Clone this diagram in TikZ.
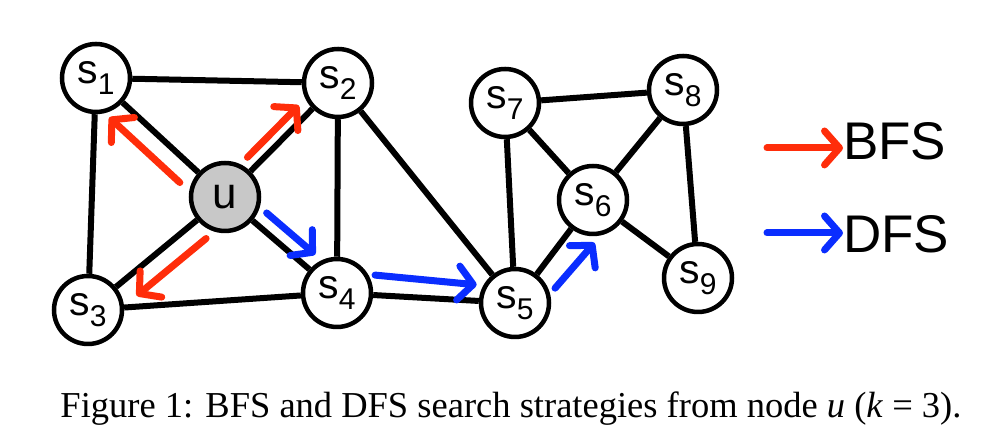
\documentclass[tikz,border=0pt]{standalone}
\usepackage{fontspec}
\setmainfont{Liberation Serif}
\setsansfont{Liberation Sans}
\usetikzlibrary{calc,arrows.meta}
\definecolor{bfsred}{RGB}{255,45,10}
\definecolor{dfsblue}{RGB}{10,45,255}
\definecolor{ugray}{RGB}{200,200,200}
\newcommand{\sn}[1]{s\raisebox{-11pt}{\fontsize{30}{30}\selectfont #1}}

\begin{document}
\begin{tikzpicture}[x=1pt, y=1pt,
    vertex/.style={circle, draw, line width=4.5pt, fill=white, minimum size=68pt,
      inner sep=0pt, font=\sffamily\fontsize{41}{41}\selectfont},
    edge/.style={line width=6pt},
    bfsarrow/.style={line width=7pt, bfsred, line cap=round,
      -{Straight Barb[length=15pt,width=34pt,round]}},
    dfsarrow/.style={line width=7pt, dfsblue, line cap=round,
      -{Straight Barb[length=15pt,width=34pt,round]}}]
    \useasboundingbox (0,0) rectangle (988,435);

    % the graph
    \node[vertex] (s1) at (96,357) {\sn{1}};
    \node[vertex] (s2) at (338,352) {\sn{2}};
    \node[vertex, fill=ugray, font=\sffamily\fontsize{44}{44}\selectfont] (u) at (225,238) {u};
    \node[vertex] (s3) at (88,125) {\sn{3}};
    \node[vertex] (s4) at (337,142) {\sn{4}};
    \node[vertex] (s5) at (515,132) {\sn{5}};
    \node[vertex] (s7) at (505,332) {\sn{7}};
    \node[vertex] (s8) at (683,345) {\sn{8}};
    \node[vertex] (s6) at (593,235) {\sn{6}};
    \node[vertex] (s9) at (698,157) {\sn{9}};

    \draw[edge] (s1) -- (s2);
    \draw[edge] (s1) -- (s3);
    \draw[edge] (s1) -- (u);
    \draw[edge] (u) -- (s2);
    \draw[edge] (u) -- (s3);
    \draw[edge] (u) -- (s4);
    \draw[edge] (s2) -- (s4);
    \draw[edge] (s2) -- (s5);
    \draw[edge] (s3) -- (s4);
    \draw[edge] (s4) -- (s5);
    \draw[edge] (s5) -- (s7);
    \draw[edge] (s5) -- (s6);
    \draw[edge] (s7) -- (s8);
    \draw[edge] (s7) -- (s6);
    \draw[edge] (s8) -- (s6);
    \draw[edge] (s8) -- (s9);
    \draw[edge] (s6) -- (s9);

    % search arrows
    \coordinate (b1a) at ($(u)!43pt!(s1)!20pt!90:(s1)$);
    \coordinate (b1b) at ($(u)!139pt!(s1)!20pt!90:(s1)$);
    \coordinate (b2a) at ($(u)!44pt!(s2)!12pt!90:(s2)$);
    \coordinate (b2b) at ($(u)!117pt!(s2)!12pt!90:(s2)$);
    \coordinate (b3a) at ($(u)!41pt!(s3)!20pt!90:(s3)$);
    \coordinate (b3b) at ($(u)!131pt!(s3)!20pt!90:(s3)$);
    \coordinate (d1a) at ($(u)!42pt!(s4)!15pt!90:(s4)$);
    \coordinate (d1b) at ($(u)!106pt!(s4)!15pt!90:(s4)$);
    \coordinate (d2a) at ($(s4)!37pt!(s5)!20pt!90:(s5)$);
    \coordinate (d2b) at ($(s4)!139pt!(s5)!16pt!90:(s5)$);
    \coordinate (d3a) at ($(s5)!36pt!(s6)!23pt!-90:(s6)$);
    \coordinate (d3b) at ($(s5)!96pt!(s6)!27pt!-90:(s6)$);
    \draw[bfsarrow] (b1a) -- (b1b);
    \draw[bfsarrow] (b2a) -- (b2b);
    \draw[bfsarrow] (b3a) -- (b3b);
    \draw[dfsarrow] (d1a) -- (d1b);
    \draw[dfsarrow] (d2a) -- (d2b);
    \draw[dfsarrow] (d3a) -- (d3b);

    % legend
    \node[anchor=base west, inner sep=0pt, font=\sffamily\fontsize{53}{53}\selectfont] (bfslabel) at (843,275) {BFS};
    \node[anchor=base west, inner sep=0pt, font=\sffamily\fontsize{53}{53}\selectfont] (dfslabel) at (843,182) {DFS};
    \coordinate (bfsstart) at (767,287);
    \coordinate (dfsstart) at (767,202);
    \draw[bfsarrow] (bfsstart) -- (bfsstart -| bfslabel.west);
    \draw[dfsarrow] (dfsstart) -- (dfsstart -| dfslabel.west);

    % caption
    \node[anchor=base, inner sep=0pt, font=\fontsize{36.5}{36.5}\selectfont] (caption) at (511,17)
      {Figure 1: BFS and DFS search strategies from node \textit{u} (\textit{k} = 3).};
\end{tikzpicture}
\end{document}
